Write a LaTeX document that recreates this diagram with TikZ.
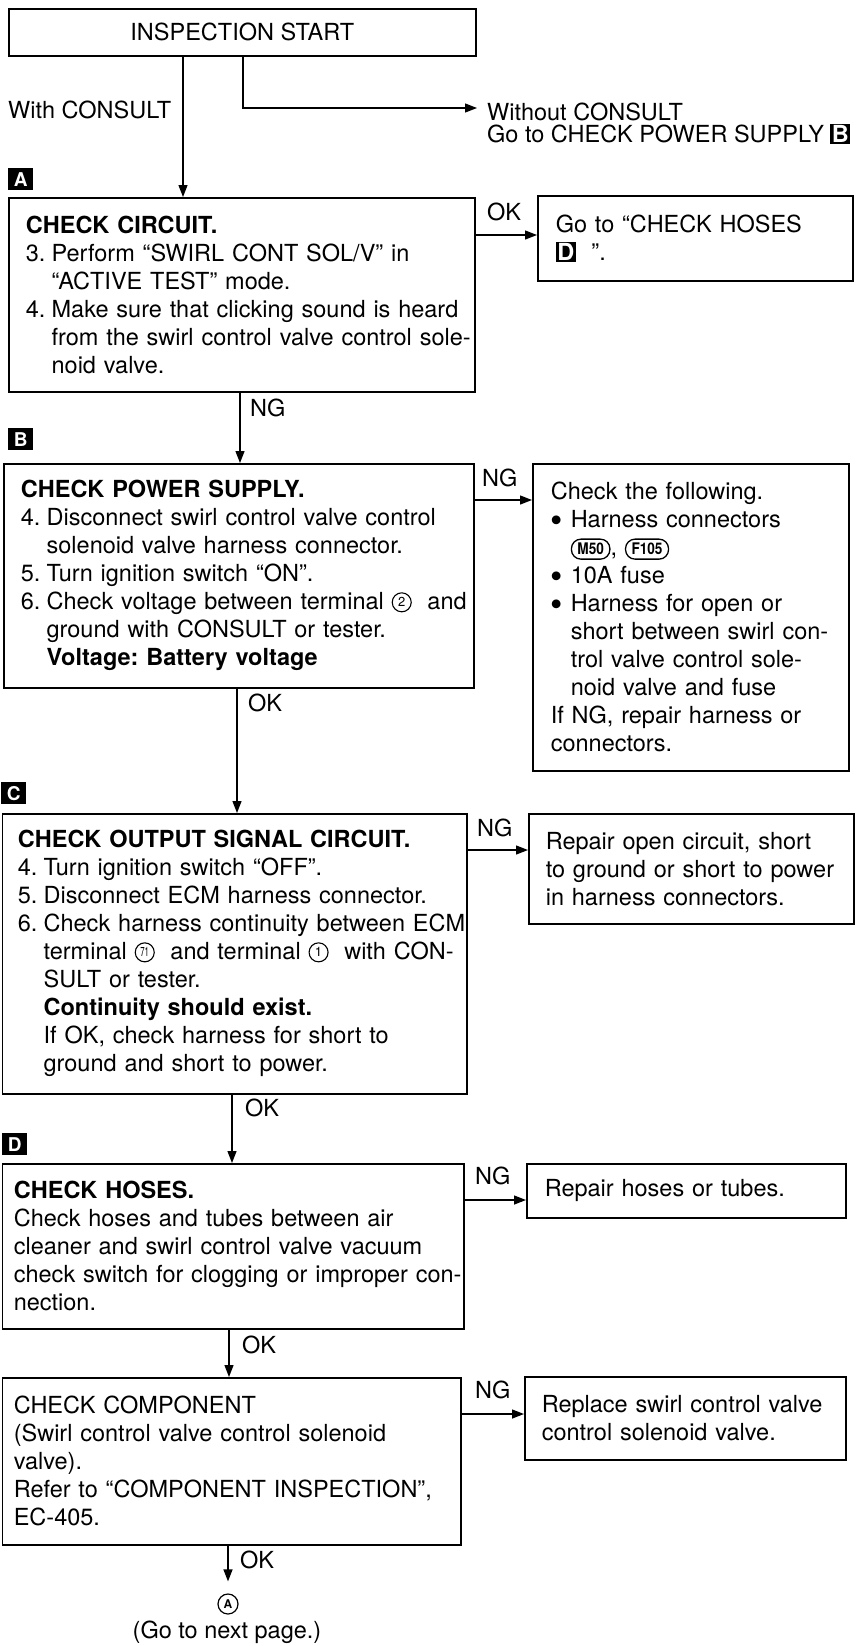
\documentclass[tikz,border=0pt]{standalone}
\usepackage{fontspec}
\usepackage{graphicx}
\setmainfont{TeX Gyre Heros}
\usetikzlibrary{arrows.meta}
\frenchspacing
\newcommand\nm[1]{\makebox[1.1em][l]{#1}}
\newcommand\ind{\hspace*{1.1em}}
\newcommand\bul{\makebox[0.85em][l]{\raisebox{-0.18em}{\scalebox{1.5}{\textbullet}}}}
\newcommand\bind{\hspace*{0.85em}}
\newcommand\cnum[1]{\tikz[baseline={([yshift=-3pt]cn.base)}]\node[draw,circle,line width=1.1pt,inner sep=0pt,minimum size=19pt,minimum width=19pt,minimum height=19pt,text width={},align=center,anchor=base,fill=none,text=black,font=\fontsize{13}{13}\selectfont] (cn) {#1};}
\newcommand\csym[1]{\tikz[baseline={([yshift=-1pt]cs.base)}]\node[draw,rounded corners=9.5pt,line width=1.3pt,inner xsep=6pt,inner ysep=2pt,minimum width=0pt,minimum height=20pt,text width={},align=center,anchor=base,fill=none,text=black,font=\bfseries\fontsize{16}{16}\selectfont] (cs) {\scalebox{0.85}[1]{#1}};}
\newcommand\ilab[1]{{\setlength\fboxsep{1.5pt}\colorbox{black}{\textcolor{white}{\bfseries #1}}}}
\begin{document}
\begin{tikzpicture}[x=1pt,y=-1pt,
  bx/.style={draw,line width=1.6pt,anchor=north west,inner ysep=0pt,align=left,font=\fontsize{23.5}{28}\selectfont},
  tx/.style={font=\fontsize{23.5}{28}\selectfont,inner sep=0pt},
  arr/.style={line width=1.3pt,-{Triangle[length=12pt,width=9pt]}},
  lab/.style={fill=black,text=white,font=\bfseries\fontsize{19}{19}\selectfont,minimum width=25pt,minimum height=22pt,inner sep=0pt,anchor=north west}]
\useasboundingbox (0,0) rectangle (863,1646);
\fill[white] (0,0) rectangle (863,1646);

% main boxes
\node[bx,minimum width=467pt,minimum height=47pt,inner xsep=0pt,align=center] (start) at (8,8) {INSPECTION START};

\node[bx,minimum width=466pt,minimum height=194pt,inner xsep=17pt,text width=432pt] (A) at (8,197) {\textbf{CHECK CIRCUIT.}\\
\mbox{\nm{3.}Perform “SWIRL CONT SOL/V” in}\\
\mbox{\ind“ACTIVE TEST” mode.}\\
\mbox{\nm{4.}Make sure that clicking sound is heard}\\
\mbox{\ind from the swirl control valve control sole-}\\
\mbox{\ind noid valve.}};

\node[bx,minimum width=470pt,minimum height=224pt,inner xsep=17pt,text width=436pt] (B) at (3,463) {\textbf{CHECK POWER SUPPLY.}\\
\mbox{\nm{4.}Disconnect swirl control valve control}\\
\mbox{\ind solenoid valve harness connector.}\\
\mbox{\nm{5.}Turn ignition switch “ON”.}\\
\mbox{\nm{6.}Check voltage between terminal \cnum{2}\ \ and}\\
\mbox{\ind ground with CONSULT or tester.}\\
\mbox{\ind\textbf{Voltage: Battery voltage}}};

\node[bx,minimum width=464.5pt,minimum height=280pt,inner xsep=15.5pt,text width=433.5pt] (C) at (1.5,813) {\textbf{CHECK OUTPUT SIGNAL CIRCUIT.}\\
\mbox{\nm{4.}Turn ignition switch “OFF”.}\\
\mbox{\nm{5.}Disconnect ECM harness connector.}\\
\mbox{\nm{6.}Check harness continuity between ECM}\\
\mbox{\ind terminal \cnum{\scalebox{0.6}[1]{71}}\ \ and terminal \cnum{1}\ \ with CON-}\\
\mbox{\ind SULT or tester.}\\
\mbox{\ind\textbf{Continuity should exist.}}\\
\mbox{\ind If OK, check harness for short to}\\
\mbox{\ind ground and short to power.}};

\node[bx,minimum width=461.5pt,minimum height=165pt,inner xsep=11.5pt,text width=438.5pt] (D) at (1.5,1163) {\textbf{CHECK HOSES.}\\
\mbox{Check hoses and tubes between air}\\
\mbox{cleaner and swirl control valve vacuum}\\
\mbox{check switch for clogging or improper con-}\\
\mbox{nection.}};

\node[bx,minimum width=458.5pt,minimum height=167pt,inner xsep=11.5pt,text width=435.5pt] (E) at (1.5,1377) {CHECK COMPONENT\\
\mbox{(Swirl control valve control solenoid}\\
\mbox{valve).}\\
\mbox{Refer to “COMPONENT INSPECTION”,}\\
\mbox{EC-405.}};

% right boxes
\node[bx,minimum width=315pt,minimum height=85pt,inner xsep=18pt,text width=279pt] (goto) at (537,195) {\mbox{Go to “CHECK HOSES}\\
\mbox{\ilab{D}\ \ ”.}};

\node[bx,minimum width=316pt,minimum height=307pt,inner xsep=18pt,text width=280pt] (RB) at (532,463) {\mbox{Check the following.}\\
\mbox{\bul Harness connectors}\\
\mbox{\bind\csym{M50}, \csym{F105}}\\
\mbox{\bul 10A fuse}\\
\mbox{\bul Harness for open or}\\
\mbox{\bind short between swirl con-}\\
\mbox{\bind trol valve control sole-}\\
\mbox{\bind noid valve and fuse}\\
\mbox{If NG, repair harness or}\\
\mbox{connectors.}};

\node[bx,minimum width=325pt,minimum height=110pt,inner xsep=17pt,text width=291pt] (RC) at (528,813) {\mbox{Repair open circuit, short}\\
\mbox{to ground or short to power}\\
\mbox{in harness connectors.}};

\node[bx,minimum width=319pt,minimum height=54pt,inner xsep=18pt,text width=283pt] (RD) at (526,1163) {\mbox{Repair hoses or tubes.}};

\node[bx,minimum width=321pt,minimum height=83pt,inner xsep=17pt,text width=287pt] (RE) at (524,1376) {\mbox{Replace swirl control valve}\\
\mbox{control solenoid valve.}};

% free texts
\node[tx,anchor=west] (wc) at (8,110) {With CONSULT};
\node[tx,anchor=west] (wo1) at (487,112) {Without CONSULT};
\node[tx,anchor=west] (wo2) at (487,134) {Go to CHECK POWER SUPPLY \ilab{B}};

% section labels
\node[lab] (LA) at (8,168) {A};
\node[lab] (LB) at (8,428) {B};
\node[lab] (LC) at (1,782) {C};
\node[lab] (LD) at (2,1133) {D};

% coordinates
\coordinate (c1) at (183,0);
\coordinate (c2) at (243,0);
\coordinate (wotip) at (477,108);
\coordinate (h1) at (0,235);
\coordinate (c3) at (240,0);
\coordinate (h2) at (0,500);
\coordinate (c4) at (237,0);
\coordinate (h3) at (0,850);
\coordinate (c5) at (232,0);
\coordinate (h4) at (0,1200);
\coordinate (c6) at (229,0);
\coordinate (h5) at (0,1414);

\node[draw,circle,line width=1.2pt,minimum size=20pt,inner sep=0pt,font=\bfseries\fontsize{12}{12}\selectfont] (nextA) at (228,1604) {A};
\node[tx] (gonext) at (227,1632) {(Go to next page.)};

% connectors
\draw[arr] (start.south -| c1) -- (A.north -| c1);
\draw[arr] (start.south -| c2) |- (wotip);
\draw[arr] (A.east |- h1) -- (goto.west |- h1);
\draw[arr] (A.south -| c3) -- (B.north -| c3);
\draw[arr] (B.east |- h2) -- (RB.west |- h2);
\draw[arr] (B.south -| c4) -- (C.north -| c4);
\draw[arr] (C.east |- h3) -- (RC.west |- h3);
\draw[arr] (C.south -| c5) -- (D.north -| c5);
\draw[arr] (D.east |- h4) -- (RD.west |- h4);
\draw[arr] (D.south -| c6) -- (E.north -| c6);
\draw[arr] (E.east |- h5) -- (RE.west |- h5);
\draw[arr,shorten >=12pt] (E.south -| nextA) -- (nextA.north);

% connector labels
\node[tx,anchor=west] (ok1) at (487,212) {OK};
\node[tx,anchor=west] (ng1) at (250,408) {NG};
\node[tx,anchor=west] (ng2) at (482,478) {NG};
\node[tx,anchor=west] (ok2) at (248,703) {OK};
\node[tx,anchor=west] (ng3) at (477,828) {NG};
\node[tx,anchor=west] (ok3) at (245,1108) {OK};
\node[tx,anchor=west] (ng4) at (475,1176) {NG};
\node[tx,anchor=west] (ok4) at (242,1345) {OK};
\node[tx,anchor=west] (ng5) at (475,1390) {NG};
\node[tx,anchor=west] (ok5) at (240,1560) {OK};
\end{tikzpicture}
\end{document}
